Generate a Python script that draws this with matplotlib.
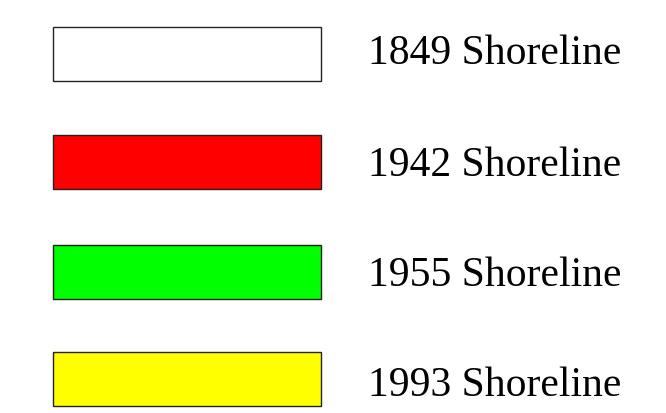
import matplotlib
matplotlib.use("Agg")
import matplotlib.pyplot as plt

labels = ["1849 Shoreline", "1942 Shoreline", "1955 Shoreline", "1993 Shoreline"]
colors = ["#ffffff", "#ff0000", "#00ff00", "#ffff00"]

W, H = 666, 413
fig = plt.figure(figsize=(W / 100, H / 100), dpi=100)
ax = fig.add_axes([0, 0, 1, 1])
ax.set_xlim(0, W)
ax.set_ylim(H, 0)
ax.axis("off")

box_top = [27, 135, 245, 352]
box_h = 54
text_base = [64.5, 175.5, 286.5, 396.5]
centers = [t + box_h / 2 for t in box_top]
ax.barh(centers, [268] * len(labels), left=53, height=box_h, color=colors,
        edgecolor="#222222", linewidth=1.0)
for b, lab in zip(text_base, labels):
    ax.text(368, b, lab, fontsize=30, family="Liberation Serif",
            va="baseline", ha="left", color="black")

fig.savefig("out.png", dpi=100)
